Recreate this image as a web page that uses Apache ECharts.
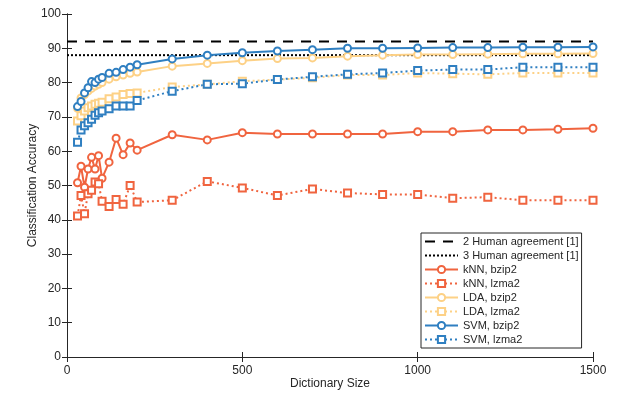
<!DOCTYPE html>
<html>
<head>
<meta charset="utf-8">
<script src="https://cdn.jsdelivr.net/npm/echarts@6/dist/echarts.min.js"></script>
<style>
  html, body { margin: 0; padding: 0; background: #fff; }
  #chart { width: 617px; height: 394px; }
</style>
</head>
<body>
<div id="chart"></div>
<script>
const dictSizes = [30, 40, 50, 60, 70, 80, 90, 100, 120, 140, 160, 180, 200,
  300, 400, 500, 600, 700, 800, 900, 1000, 1100, 1200, 1300, 1400, 1500];

const knnBzip2 = [50.8, 55.6, 49.5, 54.8, 58.2, 54.8, 58.7, 52.1, 56.8, 63.8, 59.0, 62.4, 60.3,
  64.8, 63.3, 65.4, 65.0, 65.0, 65.0, 65.0, 65.7, 65.7, 66.2, 66.2, 66.4, 66.7];
const knnLzma2 = [41.1, 47.1, 41.8, 47.6, 48.6, 51.0, 50.5, 45.4, 43.9, 45.9, 44.5, 50.0, 45.2,
  45.7, 51.2, 49.3, 47.1, 49.0, 47.8, 47.4, 47.4, 46.3, 46.6, 45.7, 45.7, 45.7];
const ldaBzip2 = [72.5, 75.5, 76.5, 77.5, 78.3, 79.0, 79.5, 80.0, 81.0, 81.7, 82.2, 82.7, 83.1,
  84.8, 85.6, 86.4, 87.0, 87.2, 87.7, 88.0, 88.2, 88.2, 88.3, 88.4, 88.4, 88.5];
const ldaLzma2 = [68.8, 70.3, 71.7, 72.7, 73.2, 73.7, 74.0, 74.3, 75.3, 75.8, 76.5, 76.8, 77.0,
  78.7, 79.5, 80.4, 80.9, 81.4, 82.2, 82.2, 82.8, 82.6, 82.4, 82.8, 82.8, 82.8];
const svmBzip2 = [73.0, 74.5, 77.0, 78.5, 80.3, 80.0, 81.0, 81.5, 82.7, 83.0, 83.8, 84.5, 85.2,
  86.9, 88.0, 88.7, 89.2, 89.6, 90.0, 90.0, 90.1, 90.2, 90.2, 90.3, 90.3, 90.4];
const svmLzma2 = [62.6, 66.2, 67.4, 68.3, 69.3, 70.5, 71.2, 71.7, 72.4, 73.2, 73.2, 73.2, 74.8,
  77.5, 79.5, 79.7, 80.9, 81.7, 82.4, 82.8, 83.5, 83.8, 83.8, 84.5, 84.5, 84.5];

const humanTwo = 92;
const humanThree = 88;
const xRange = [0, 1500];
const yRange = [0, 100];

const RED = '#f0643f';
const YELLOW = '#fdd186';
const BLUE = '#2f7fc1';
const INK = '#262626';

const pairs = (ys) => dictSizes.map((x, i) => [x, ys[i]]);
const flat = (y) => xRange.map(x => [x, y]);

function curve(name, ys, color, lzma) {
  return {
    name: name,
    type: 'line',
    data: pairs(ys),
    symbol: lzma ? 'emptyRect' : 'emptyCircle',
    symbolSize: 7,
    itemStyle: { color: color, borderWidth: 1.8 },
    lineStyle: { color: color, width: 2, type: lzma ? [2, 3] : 'solid' }
  };
}

const font = 'Liberation Sans, Arial, Helvetica, sans-serif';

const chart = echarts.init(document.getElementById('chart'), null, { renderer: 'canvas' });

const hiddenAxis = {
  axisLine: { show: true, lineStyle: { color: INK, width: 1 } },
  axisTick: { show: true, inside: true, length: 5, lineStyle: { color: INK } },
  axisLabel: { show: false },
  splitLine: { show: false }
};

chart.setOption({
  animation: false,
  backgroundColor: '#fff',
  textStyle: { fontFamily: font, color: INK },
  grid: { left: 67, right: 24, top: 14, bottom: 37, outerBoundsMode: 'none' },
  xAxis: [{
    type: 'value', min: xRange[0], max: xRange[1], interval: 500,
    name: 'Dictionary Size', nameLocation: 'middle', nameGap: 21, nameMoveOverlap: false,
    nameTextStyle: { fontSize: 12, color: INK, fontFamily: font },
    axisLine: { show: true, lineStyle: { color: INK, width: 1 } },
    axisTick: { show: true, inside: true, length: 5, lineStyle: { color: INK } },
    axisLabel: { fontSize: 12, color: INK, margin: 8, fontFamily: font, formatter: v => String(v) },
    splitLine: { show: false }
  }, Object.assign({
    type: 'value', min: xRange[0], max: xRange[1], interval: 500, position: 'top'
  }, hiddenAxis)],
  yAxis: [{
    type: 'value', min: yRange[0], max: yRange[1], interval: 10,
    name: 'Classification Accuracy', nameLocation: 'middle', nameGap: 28, nameMoveOverlap: false,
    nameTextStyle: { fontSize: 12, color: INK, fontFamily: font },
    axisLine: { show: true, lineStyle: { color: INK, width: 1 } },
    axisTick: { show: true, inside: true, length: 5, lineStyle: { color: INK } },
    axisLabel: { fontSize: 12, color: INK, margin: 6, fontFamily: font },
    splitLine: { show: false }
  }, Object.assign({
    type: 'value', min: yRange[0], max: yRange[1], interval: 10, position: 'right'
  }, hiddenAxis)],
  legend: {
    orient: 'vertical',
    left: 421, top: 233,
    padding: [3, 3, 3, 3],
    itemGap: 3,
    itemWidth: 33,
    itemHeight: 9,
    borderColor: INK,
    borderWidth: 1,
    backgroundColor: '#fff',
    textStyle: { fontSize: 11, color: INK, fontFamily: font },
    data: [
      { name: '2 Human agreement [1]', itemStyle: { opacity: 0 } },
      { name: '3 Human agreement [1]', itemStyle: { opacity: 0 } },
      'kNN, bzip2', 'kNN, lzma2', 'LDA, bzip2', 'LDA, lzma2', 'SVM, bzip2', 'SVM, lzma2'
    ]
  },
  series: [
    {
      name: '2 Human agreement [1]', type: 'line', data: flat(humanTwo), symbol: 'none',
      lineStyle: { color: '#000', width: 2, type: [10, 8] }, itemStyle: { color: '#000' }
    },
    {
      name: '3 Human agreement [1]', type: 'line', data: flat(humanThree), symbol: 'none',
      lineStyle: { color: '#000', width: 2, type: [2, 2] }, itemStyle: { color: '#000' }
    },
    curve('kNN, bzip2', knnBzip2, RED, false),
    curve('kNN, lzma2', knnLzma2, RED, true),
    curve('LDA, bzip2', ldaBzip2, YELLOW, false),
    curve('LDA, lzma2', ldaLzma2, YELLOW, true),
    curve('SVM, bzip2', svmBzip2, BLUE, false),
    curve('SVM, lzma2', svmLzma2, BLUE, true)
  ]
});
</script>
</body>
</html>
